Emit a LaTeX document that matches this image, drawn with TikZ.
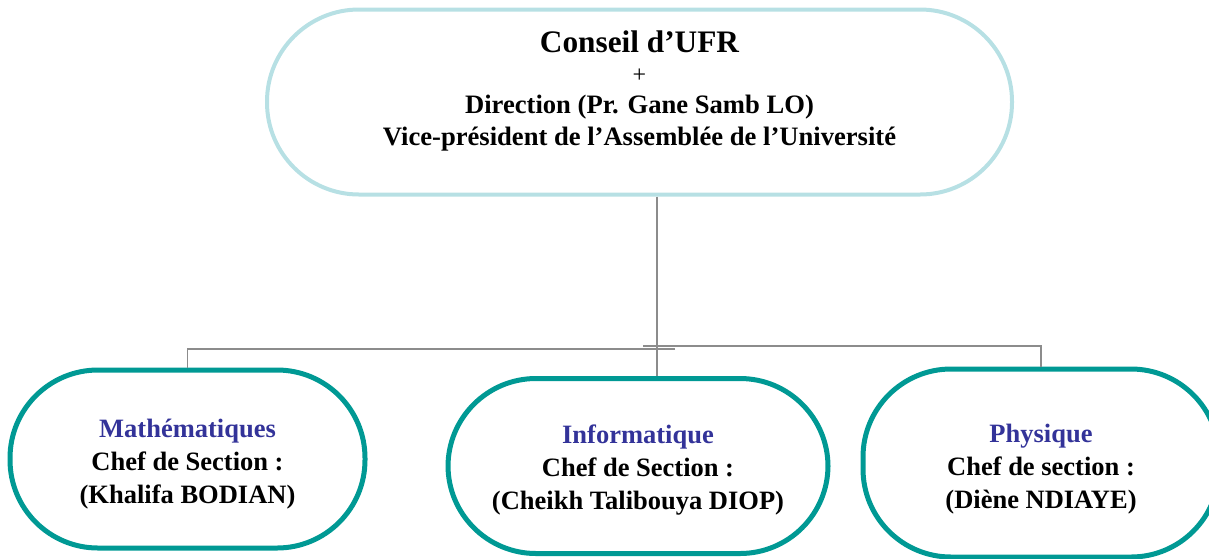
\documentclass[tikz,border=0pt]{standalone}
\usepackage{fontspec}
\setmainfont{Liberation Serif}
\usetikzlibrary{positioning}

\definecolor{topline}{RGB}{183,224,228}
\definecolor{secline}{RGB}{0,153,148}
\definecolor{secname}{RGB}{51,51,153}
\definecolor{linkgray}{RGB}{140,140,140}

\begin{document}
\begin{tikzpicture}[x=1pt,y=-1pt,
    board/.style={rectangle,draw=topline,line width=4pt,rounded corners=92pt,
            minimum width=745pt,minimum height=185pt,align=center,
            font=\fontsize{26.6}{30}\selectfont\bfseries},
    section/.style={rectangle,draw=secline,line width=5pt,rounded corners=88pt,
            minimum height=178pt,align=center,
            font=\fontsize{26.5}{33}\selectfont\bfseries},
    link/.style={draw=linkgray,line width=1.8pt}]
  \useasboundingbox (0,0) rectangle (1209,558);
  \clip (0,0) rectangle (1209,558);

  \node[board,text depth=28pt] (ufr) at (639.5,102)
    {{\fontsize{31.3}{31}\selectfont Conseil d’UFR}\\[0pt]
     {\fontsize{24}{24}\selectfont\mdseries +}\\[1pt]
     Direction (Pr. Gane Samb LO)\\[2pt]
     Vice-président de l’Assemblée de l’Université};

  \node[section,minimum width=355pt,text height=92pt,text depth=4pt] (math) at (187.5,459)
    {\textcolor{secname}{Mathématiques}\\ Chef de Section :\\ (Khalifa BODIAN)};
  \node[section,minimum width=380pt,minimum height=175pt,text height=92pt,text depth=6pt] (info) at (638,466)
    {\textcolor{secname}{Informatique}\\ Chef de Section :\\ (Cheikh Talibouya DIOP)};
  \node[section,minimum width=356pt,minimum height=188pt,text height=94pt,text depth=4pt] (phys) at (1041,463)
    {\textcolor{secname}{Physique}\\ Chef de section :\\ (Diène NDIAYE)};

  %% spine from the board down to the branch line
  \coordinate (hub) at (657,348);
  \coordinate (lend) at (675,349);
  \coordinate (rend) at (643,346);
  \draw[link] (ufr.south -| hub) -- (hub);
  \draw[link] (lend) -| (math.north);
  \draw[link] (rend) -| (phys.north);
  \draw[link] (hub) -- (info.north -| hub);
\end{tikzpicture}
\end{document}
